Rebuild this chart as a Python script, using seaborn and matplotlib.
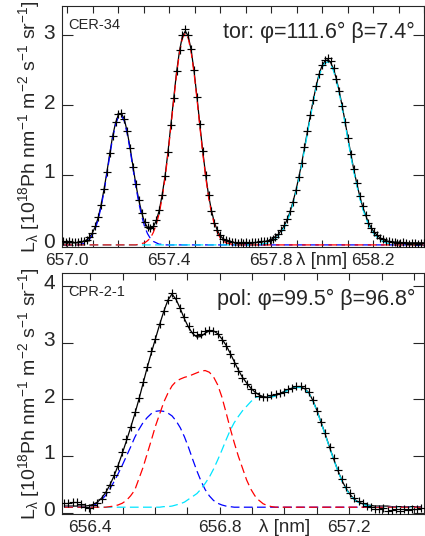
import numpy as np
import pandas as pd
import seaborn as sns
import matplotlib
matplotlib.use("Agg")
import matplotlib.pyplot as plt
import matplotlib.transforms as mtransforms
from matplotlib.ticker import MultipleLocator, FuncFormatter

# spectrometer wavelength grids [nm]
TOP_START, TOP_STEP, TOP_N = 656.985, 0.0114, 125
BOT_START, BOT_STEP, BOT_N = 656.320, 0.0128, 87

# --- top panel: CER-34, toroidal view ---
top_data = [0.05, 0.04, 0.05, 0.04, 0.04, 0.04, 0.05, 0.06, 0.07, 0.12,
            0.17, 0.27, 0.40, 0.57, 0.80, 1.05, 1.31, 1.56, 1.76, 1.88,
            1.89, 1.80, 1.63, 1.39, 1.12, 0.87, 0.64, 0.45, 0.33, 0.26,
            0.24, 0.27, 0.35, 0.50, 0.72, 0.99, 1.33, 1.72, 2.11, 2.49,
            2.79, 3.01, 3.09, 3.01, 2.80, 2.50, 2.12, 1.73, 1.34, 1.00,
            0.71, 0.49, 0.32, 0.21, 0.14, 0.09, 0.07, 0.05, 0.04, 0.04,
            0.03, 0.04, 0.03, 0.04, 0.03, 0.04, 0.04, 0.04, 0.05, 0.05,
            0.06, 0.07, 0.09, 0.12, 0.16, 0.21, 0.28, 0.37, 0.48, 0.62,
            0.78, 0.97, 1.17, 1.40, 1.63, 1.86, 2.08, 2.28, 2.45, 2.58,
            2.65, 2.68, 2.63, 2.53, 2.38, 2.20, 1.99, 1.76, 1.53, 1.30,
            1.08, 0.88, 0.70, 0.55, 0.43, 0.32, 0.24, 0.18, 0.14, 0.10,
            0.08, 0.06, 0.05, 0.04, 0.04, 0.03, 0.03, 0.04, 0.03, 0.02,
            0.03, 0.03, 0.02, 0.03, 0.03]
top_blue = [0.0] * 5 + [
    0.00, 0.01, 0.02, 0.04, 0.08, 0.14, 0.23, 0.36, 0.54, 0.76,
    1.01, 1.28, 1.53, 1.72, 1.84, 1.85, 1.77, 1.59, 1.36, 1.09,
    0.83, 0.60, 0.41, 0.26, 0.16, 0.09, 0.05, 0.03, 0.01, 0.01,
    0.00] + [0.0] * 89
top_red = [0.0] * 25 + [
    0.00, 0.01, 0.02, 0.03, 0.06, 0.10, 0.18, 0.29, 0.45, 0.67,
    0.95, 1.29, 1.68, 2.07, 2.45, 2.75, 2.96, 3.03, 2.96, 2.76,
    2.46, 2.09, 1.69, 1.31, 0.97, 0.68, 0.46, 0.29, 0.18, 0.10,
    0.06, 0.03, 0.02, 0.01, 0.00] + [0.0] * 65
top_cyan = [0.0] * 64 + [
    0.00, 0.00, 0.00, 0.01, 0.01, 0.02, 0.02, 0.04, 0.06, 0.09,
    0.12, 0.18, 0.24, 0.33, 0.44, 0.58, 0.74, 0.93, 1.13, 1.36,
    1.59, 1.82, 2.04, 2.24, 2.41, 2.53, 2.60, 2.62, 2.58, 2.49,
    2.34, 2.16, 1.95, 1.73, 1.49, 1.26, 1.04, 0.85, 0.67, 0.52,
    0.40, 0.29, 0.21, 0.15, 0.11, 0.07, 0.05, 0.03, 0.02, 0.01,
    0.01, 0.01, 0.00, 0.00, 0.00] + [0.0] * 6
TOP_BASE = 0.03

# --- bottom panel: CPR-2-1, poloidal view ---
bot_data = [0.18, 0.17, 0.20, 0.19, 0.16, 0.11, 0.09, 0.13, 0.18, 0.25,
            0.37, 0.50, 0.67, 0.82, 1.08, 1.30, 1.52, 1.78, 2.03, 2.30,
            2.58, 2.86, 3.07, 3.33, 3.56, 3.76, 3.88, 3.79, 3.62, 3.45,
            3.30, 3.19, 3.14, 3.16, 3.21, 3.22, 3.21, 3.15, 3.05, 2.94,
            2.80, 2.64, 2.50, 2.38, 2.28, 2.18, 2.11, 2.06, 2.05, 2.04,
            2.08, 2.10, 2.12, 2.13, 2.19, 2.21, 2.24, 2.23, 2.21, 2.14,
            1.99, 1.79, 1.61, 1.40, 1.16, 0.97, 0.76, 0.60, 0.45, 0.35,
            0.26, 0.21, 0.17, 0.12, 0.10, 0.07, 0.06, 0.08, 0.04, 0.05,
            0.06, 0.04, 0.06, 0.05, 0.07, 0.06, 0.08]
bot_fit = [0.12, 0.12, 0.12, 0.12, 0.12, 0.12, 0.13, 0.15, 0.19, 0.26,
           0.36, 0.49, 0.65, 0.84, 1.05, 1.27, 1.50, 1.74, 2.00, 2.28,
           2.56, 2.82, 3.07, 3.32, 3.55, 3.75, 3.86, 3.76, 3.60, 3.42,
           3.27, 3.16, 3.10, 3.11, 3.17, 3.21, 3.21, 3.16, 3.07, 2.96,
           2.82, 2.67, 2.52, 2.39, 2.29, 2.20, 2.13, 2.08, 2.05, 2.04,
           2.05, 2.07, 2.10, 2.14, 2.17, 2.20, 2.22, 2.22, 2.19, 2.12,
           1.98, 1.80, 1.59, 1.38, 1.16, 0.95, 0.75, 0.57, 0.43, 0.32,
           0.24, 0.19, 0.16, 0.14, 0.13, 0.12, 0.12, 0.12, 0.12, 0.11,
           0.11, 0.11, 0.11, 0.11, 0.11, 0.11, 0.11]
bot_blue = [0.10] * 6 + [
    0.11, 0.13, 0.17, 0.23, 0.31, 0.42, 0.55, 0.69, 0.84, 1.00,
    1.16, 1.33, 1.47, 1.59, 1.68, 1.75, 1.79, 1.80, 1.79, 1.76,
    1.71, 1.62, 1.50, 1.34, 1.15, 0.94, 0.74, 0.56, 0.41, 0.30,
    0.22, 0.17, 0.14, 0.12, 0.11] + [0.10] * 46
bot_red = [0.10] * 11 + [
    0.11, 0.12, 0.14, 0.17, 0.22, 0.30, 0.40, 0.60, 0.80, 1.04,
    1.28, 1.53, 1.74, 1.95, 2.11, 2.24, 2.32, 2.36, 2.39, 2.41,
    2.44, 2.47, 2.50, 2.51, 2.48, 2.40, 2.26, 2.05, 1.78, 1.50,
    1.24, 1.00, 0.79, 0.58, 0.42, 0.30, 0.22, 0.16, 0.13, 0.11] + [0.10] * 36
bot_cyan = [0.10] * 24 + [
    0.11, 0.11, 0.12, 0.14, 0.16, 0.19, 0.24, 0.29, 0.34, 0.42,
    0.52, 0.63, 0.77, 0.93, 1.10, 1.28, 1.45, 1.59, 1.70, 1.80,
    1.88, 1.96, 2.03, 2.05, 2.05, 2.04, 2.04, 2.06, 2.09, 2.13,
    2.16, 2.19, 2.21, 2.21, 2.18, 2.11, 1.97, 1.79, 1.58, 1.37,
    1.15, 0.94, 0.74, 0.56, 0.42, 0.31, 0.23, 0.18, 0.15, 0.13,
    0.12, 0.11] + [0.10] * 11

top_xlabels = [657.0, 657.4, 657.8, 658.2]
bot_xlabels = [656.4, 656.8, 657.2]

top = pd.DataFrame({"wl": TOP_START + TOP_STEP * np.arange(TOP_N), "data": top_data,
                    "blue": top_blue, "red": top_red, "cyan": top_cyan})
top["fit"] = top["blue"] + top["red"] + top["cyan"] + TOP_BASE
bot = pd.DataFrame({"wl": BOT_START + BOT_STEP * np.arange(BOT_N), "data": bot_data,
                    "fit": bot_fit, "blue": bot_blue, "red": bot_red, "cyan": bot_cyan})

sns.set_theme(style="ticks")
plt.rcParams["font.family"] = ["Liberation Sans", "DejaVu Sans"]
plt.rcParams["mathtext.default"] = "regular"
plt.rcParams["axes.linewidth"] = 0.8

YLABEL = "L$_{λ}$ [10$^{18}$Ph nm$^{-1}$ m$^{-2}$ s$^{-1}$ sr$^{-1}$]"
DASH = (0, (7, 3.5))


def draw_panel(fig, ax, df, labels, xlabel_at, tag, title, xlim, ylim):
    sns.lineplot(data=df, x="wl", y="fit", color="black", lw=0.9, ax=ax,
                 estimator=None, sort=False, zorder=2)
    for col, c in [("blue", "#0000ff"), ("cyan", "#00e5ff"), ("red", "#ff0000")]:
        sns.lineplot(data=df, x="wl", y=col, color=c, lw=0.9, linestyle=DASH,
                     ax=ax, estimator=None, sort=False, zorder=3)
    sns.scatterplot(data=df, x="wl", y="data", marker="+", s=32, color="black",
                    linewidth=0.85, ax=ax, zorder=4)
    ax.set_xlim(*xlim)
    ax.set_ylim(*ylim)
    ax.xaxis.set_major_locator(MultipleLocator(0.1))
    ax.xaxis.set_major_formatter(FuncFormatter(
        lambda v, p: f"{v:.1f}" if any(abs(v - t) < 1e-6 for t in labels) else ""))
    ax.yaxis.set_major_locator(MultipleLocator(1))
    ax.tick_params(axis="x", direction="in", top=True, bottom=True, length=5,
                   width=0.8, labelsize=12.5, pad=4)
    ax.tick_params(axis="y", direction="in", left=True, right=True, length=8,
                   width=0.8, labelsize=15, pad=5)
    # lift the y tick labels a touch so "0" clears the wavelength labels
    lift = mtransforms.ScaledTranslation(0, 3 / 72, fig.dpi_scale_trans)
    for t in ax.yaxis.get_major_ticks():
        t.label1.set_transform(t.label1.get_transform() + lift)
    ax.set_xlabel("")
    ax.set_ylabel(YLABEL, fontsize=14)
    ax.yaxis.set_label_coords(-0.055, 0.5)
    trans = mtransforms.blended_transform_factory(ax.transData, ax.transAxes)
    ax.text(xlabel_at, -0.02, "λ [nm]", transform=trans, ha="center", va="top",
            fontsize=13.5)
    ax.text(0.018, 0.905, tag, transform=ax.transAxes, fontsize=10.5,
            ha="left", va="baseline")
    ax.text(0.975, 0.868, title, transform=ax.transAxes, fontsize=15.5,
            ha="right", va="baseline")


fig = plt.figure(figsize=(4.25, 5.36), dpi=100)
ax1 = fig.add_axes([62 / 425, 289 / 536, 362 / 425, 241 / 536])
ax2 = fig.add_axes([62 / 425, 22 / 536, 362 / 425, 241 / 536])

draw_panel(fig, ax1, top, top_xlabels, 658.0, "CER-34", "tor: φ=111.6° β=7.4°",
           (656.98, 658.40), (-0.03, 3.42))
draw_panel(fig, ax2, bot, bot_xlabels, 657.0, "CPR-2-1", "pol: φ=99.5° β=96.8°",
           (656.313, 657.431), (-0.02, 4.23))

fig.savefig("out.png", dpi=100)
